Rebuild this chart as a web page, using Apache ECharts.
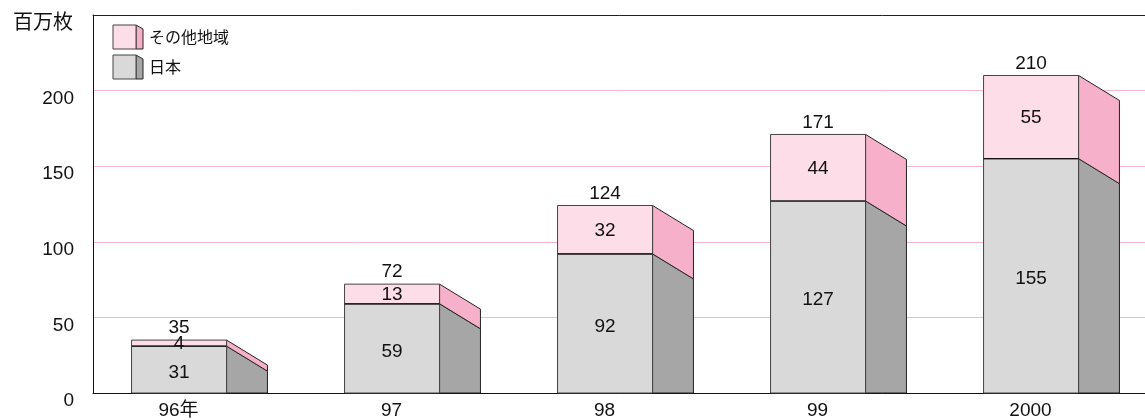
<!DOCTYPE html>
<html>
<head>
<meta charset="utf-8">
<script src="https://cdn.jsdelivr.net/npm/echarts@6/dist/echarts.min.js"></script>
<style>
  html, body { margin: 0; padding: 0; background: #fff; }
  #chart { width: 1145px; height: 420px; }
</style>
</head>
<body>
<div id="chart"></div>
<script>
const categories = ['96年', '97', '98', '99', '2000']
const japan = [31, 59, 92, 127, 155]
const others = [4, 13, 32, 44, 55]
const totals = [35, 72, 124, 171, 210]

const yTicks = [0, 50, 100, 150, 200, 250]

const FONT = '"Liberation Sans", Arial, "Noto Sans CJK JP", sans-serif'
const JP_FONT = '"Noto Sans CJK JP", "Liberation Sans", sans-serif'

const grayFront = '#d9d9d9'
const graySide = '#a6a6a6'
const pinkFront = '#fddde8'
const pinkSide = '#f7b0ca'
const gridPink = '#f7b6cc'

const chart = echarts.init(document.getElementById('chart'), null, { renderer: 'canvas' })

const renderBox = (params, api) => {
  const i = api.value(0)
  const jp = api.value(1)
  const ot = api.value(2)
  const tot = api.value(3)
  const [cx, y0] = api.coord([i, 0])
  const band = api.size([1, 0])[0]
  const front = band * 0.446
  const depth = band * 0.192
  const drop = 25
  const xL = cx - (front + depth) / 2
  const xR = xL + front
  const xB = xR + depth
  const yJ = api.coord([i, jp])[1]
  const yT = api.coord([i, tot])[1]
  const edge = { stroke: '#222', lineWidth: 1 }
  const txt = (x, y, s) => ({
    type: 'text',
    style: { x, y, text: String(s), align: 'center', verticalAlign: 'middle', fill: '#111', font: '19px ' + FONT }
  })
  return {
    type: 'group',
    children: [
      { type: 'polygon', shape: { points: [[xR, yJ], [xB, yJ + drop], [xB, y0], [xR, y0]] }, style: { fill: graySide, ...edge } },
      { type: 'polygon', shape: { points: [[xR, yT], [xB, yT + drop], [xB, yJ + drop], [xR, yJ]] }, style: { fill: pinkSide, ...edge } },
      { type: 'rect', shape: { x: xL, y: yJ, width: front, height: y0 - yJ }, style: { fill: grayFront, stroke: '#444', lineWidth: 1 } },
      { type: 'rect', shape: { x: xL, y: yT, width: front, height: yJ - yT }, style: { fill: pinkFront, stroke: '#444', lineWidth: 1 } },
      { type: 'line', shape: { x1: xL, y1: yJ, x2: xR, y2: yJ }, style: { stroke: '#111', lineWidth: 1.2 } },
      txt((xL + xR) / 2, (yJ + y0) / 2 + 3, jp),
      txt((xL + xR) / 2, (yT + yJ) / 2 + 1, ot),
      txt((xL + xR) / 2, yT - 12, tot)
    ]
  }
}

const legendIcon = (top, fFill, sFill) => ({
  type: 'group',
  children: [
    { type: 'polygon', shape: { points: [[136, top], [143, top + 4], [143, top + 24], [136, top + 24]] }, style: { fill: sFill, stroke: '#222', lineWidth: 1 } },
    { type: 'rect', shape: { x: 113, y: top, width: 23, height: 24 }, style: { fill: fFill, stroke: '#444', lineWidth: 1 } }
  ]
})

const option = {
  animation: false,
  textStyle: { fontFamily: FONT },
  grid: {
    left: 93,
    top: 15,
    width: 1065,
    height: 378,
    outerBoundsMode: 'none',
    containLabel: false
  },
  xAxis: [
    {
      type: 'category',
      data: categories,
      axisLine: { lineStyle: { color: '#111', width: 1 } },
      axisTick: { show: false },
      axisLabel: {
        color: '#111',
        fontSize: 19,
        fontFamily: FONT,
        margin: 8,
        padding: [0, 42, 0, 0]
      }
    },
    {
      // top frame line
      type: 'category',
      data: categories,
      position: 'top',
      axisLine: { lineStyle: { color: '#222', width: 1 } },
      axisTick: { show: false },
      axisLabel: { show: false }
    }
  ],
  yAxis: {
    type: 'value',
    min: yTicks[0],
    max: yTicks[yTicks.length - 1],
    interval: 50,
    axisLine: { show: true, lineStyle: { color: '#111', width: 1 } },
    axisTick: { show: false },
    splitLine: { lineStyle: { color: gridPink, width: 1 } },
    axisLabel: {
      color: '#111',
      fontSize: 19,
      fontFamily: FONT,
      margin: 19,
      showMaxLabel: false,
      verticalAlign: 'top',
      lineHeight: 16
    }
  },
  graphic: [
    { type: 'text', left: 13, top: 11, style: { text: '百万枚', fill: '#111', font: '20px ' + JP_FONT } },
    legendIcon(25, pinkFront, pinkSide),
    legendIcon(55, grayFront, graySide),
    { type: 'text', left: 149, top: 29, style: { text: 'その他地域', fill: '#111', font: '16px ' + JP_FONT } },
    { type: 'text', left: 149, top: 59, style: { text: '日本', fill: '#111', font: '16px ' + JP_FONT } }
  ],
  series: [
    {
      type: 'custom',
      renderItem: renderBox,
      clip: false,
      encode: { x: 0, y: 3 },
      data: categories.map((c, i) => [i, japan[i], others[i], totals[i]])
    }
  ]
}

chart.setOption(option)
</script>
</body>
</html>
